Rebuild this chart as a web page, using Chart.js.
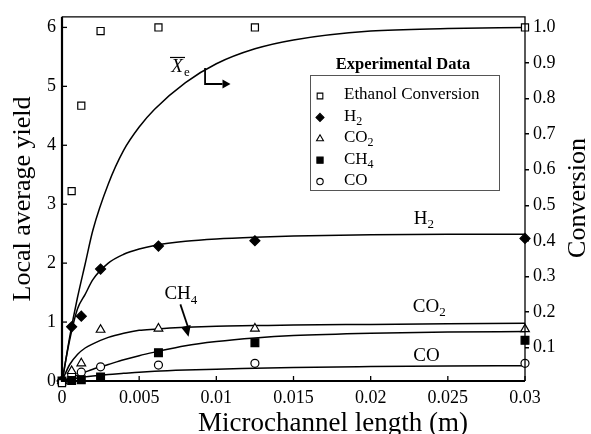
<!DOCTYPE html>
<html><head><meta charset="utf-8">
<script src="https://cdn.jsdelivr.net/npm/chart.js@4/dist/chart.umd.min.js"></script>
<style>html,body{margin:0;padding:0;background:#fff;}#wrap{width:591px;height:434px;}</style>
</head><body><div id="wrap"><canvas id="c" width="591" height="434"></canvas></div>
<script>
const FONT = '"Liberation Serif","Times New Roman",serif';

// ---- experimental data (microchannel length in m) ----
const lengthExp   = [0, 0.000625, 0.00125, 0.0025, 0.00625, 0.0125, 0.03];
const ethanolConv = [0, 0.54, 0.78, 0.99, 1.00, 1.00, 1.00];
const h2Yield     = [0, 0.92, 1.10, 1.90, 2.29, 2.38, 2.42];
const co2Yield    = [0, 0.17, 0.30, 0.87, 0.89, 0.89, 0.88];
const ch4Yield    = [0, 0.01, 0.02, 0.07, 0.48, 0.65, 0.69];
const coYield     = [0, 0.11, 0.15, 0.24, 0.27, 0.30, 0.30];

// ---- model curves ----
const modelLength = [0, 0.0005, 0.001, 0.0015, 0.002, 0.003, 0.004, 0.005, 0.006, 0.008, 0.01, 0.0125, 0.015, 0.02, 0.025, 0.03];
const xeModel  = [0, 0.13, 0.24, 0.335, 0.43, 0.56, 0.655, 0.72, 0.77, 0.845, 0.898, 0.94, 0.965, 0.99, 0.997, 1.0];
const h2Model  = [0, 0.70, 1.22, 1.47, 1.72, 2.00, 2.15, 2.24, 2.30, 2.37, 2.41, 2.44, 2.46, 2.48, 2.49, 2.49];
const co2Model = [0, 0.28, 0.45, 0.56, 0.63, 0.74, 0.81, 0.86, 0.88, 0.91, 0.93, 0.94, 0.95, 0.96, 0.97, 0.98];
const ch4Model = [0, 0.05, 0.10, 0.15, 0.20, 0.28, 0.36, 0.43, 0.49, 0.60, 0.67, 0.73, 0.77, 0.81, 0.83, 0.84];
const coModel  = [0, 0.03, 0.05, 0.07, 0.085, 0.11, 0.13, 0.15, 0.165, 0.185, 0.20, 0.215, 0.23, 0.245, 0.255, 0.26];

// ---- ticks ----
const xTicks = [0, 0.005, 0.01, 0.015, 0.02, 0.025, 0.03];
const xTickLabels = ['0', '0.005', '0.01', '0.015', '0.02', '0.025', '0.03'];
const yieldTicks = [0, 1, 2, 3, 4, 5, 6];
const convTicks = [0.1, 0.2, 0.3, 0.4, 0.5, 0.6, 0.7, 0.8, 0.9, 1.0];
const convTickLabels = ['0.1', '0.2', '0.3', '0.4', '0.5', '0.6', '0.7', '0.8', '0.9', '1.0'];

const legendNames = [['Ethanol Conversion', ''], ['H', '2'], ['CO', '2'], ['CH', '4'], ['CO', '']];

function pts(xs, ys) { return xs.map((x, i) => ({x: x, y: ys[i]})); }
const K = '#000';
function expSet(label, ys, style, r, fill, axis) {
  return {label, data: pts(lengthExp, ys), yAxisID: axis || 'y', showLine: false,
    pointStyle: style, pointRadius: r, pointHoverRadius: r, borderColor: K, backgroundColor: fill,
    borderWidth: 1.2, clip: false};
}
function modelSet(label, ys, axis) {
  return {label, data: pts(modelLength, ys), yAxisID: axis || 'y', showLine: true, pointRadius: 0,
    borderColor: K, borderWidth: 1.5, cubicInterpolationMode: 'monotone', fill: false, clip: false};
}

const styles = [['rect', 5, '#fff'], ['rectRot', 5, K], ['triangle', 5, '#fff'], ['rect', 5.5, K], ['circle', 4, '#fff']];

const datasets = [
  expSet('Ethanol Conversion', ethanolConv, 'rect', 5, '#fff', 'y1'),
  expSet('H2', h2Yield, 'rectRot', 5, K),
  expSet('CO2', co2Yield, 'triangle', 5, '#fff'),
  expSet('CH4', ch4Yield, 'rect', 5.5, K),
  expSet('CO', coYield, 'circle', 4, '#fff'),
  modelSet('Xe model', xeModel, 'y1'),
  modelSet('H2 model', h2Model),
  modelSet('CO2 model', co2Model),
  modelSet('CH4 model', ch4Model),
  modelSet('CO model', coModel)
];

function marker(ctx, style, x, y, r, fill) {
  ctx.save();
  ctx.fillStyle = fill; ctx.strokeStyle = K; ctx.lineWidth = 1.1;
  ctx.beginPath();
  if (style === 'rect') { const s = r * Math.SQRT1_2; ctx.rect(x - s, y - s, 2 * s, 2 * s); }
  else if (style === 'rectRot') { ctx.moveTo(x, y - r); ctx.lineTo(x + r, y); ctx.lineTo(x, y + r); ctx.lineTo(x - r, y); ctx.closePath(); }
  else if (style === 'triangle') { ctx.moveTo(x, y - r); ctx.lineTo(x + r * 0.866, y + r * 0.5); ctx.lineTo(x - r * 0.866, y + r * 0.5); ctx.closePath(); }
  else { ctx.arc(x, y, r, 0, Math.PI * 2); }
  ctx.fill(); ctx.stroke(); ctx.restore();
}
function subText(ctx, base, sub, x, y, size, align) {
  ctx.font = size + 'px ' + FONT;
  const wb = ctx.measureText(base).width;
  ctx.font = Math.round(size * 0.68) + 'px ' + FONT;
  const ws = sub ? ctx.measureText(sub).width : 0;
  let x0 = x;
  if (align === 'center') x0 = x - (wb + ws) / 2;
  ctx.textAlign = 'left'; ctx.textBaseline = 'middle';
  ctx.font = size + 'px ' + FONT;
  ctx.fillText(base, x0, y);
  if (sub) { ctx.font = Math.round(size * 0.68) + 'px ' + FONT; ctx.fillText(sub, x0 + wb, y + size * 0.32); }
}

const decor = {
  id: 'decor',
  afterDraw(chart) {
    const ctx = chart.ctx, a = chart.chartArea;
    const sx = chart.scales.x, sy = chart.scales.y;
    ctx.save();
    ctx.strokeStyle = K; ctx.fillStyle = K;
    // frame
    ctx.lineWidth = 1.3;
    ctx.beginPath(); ctx.moveTo(a.left, a.top); ctx.lineTo(a.right, a.top); ctx.lineTo(a.right, a.bottom); ctx.stroke();
    ctx.lineWidth = 2.2;
    ctx.beginPath(); ctx.moveTo(a.left, a.top); ctx.lineTo(a.left, a.bottom); ctx.lineTo(a.right, a.bottom); ctx.stroke();
    // inner ticks
    ctx.lineWidth = 1.3;
    yieldTicks.forEach(v => { const p = sy.getPixelForValue(v); ctx.beginPath(); ctx.moveTo(a.left, p); ctx.lineTo(a.left + 5, p); ctx.stroke(); });
    xTicks.forEach(v => { const p = sx.getPixelForValue(v); ctx.beginPath(); ctx.moveTo(p, a.bottom); ctx.lineTo(p, a.bottom - 5); ctx.stroke(); });

    // axis titles
    ctx.textAlign = 'center'; ctx.textBaseline = 'alphabetic';
    ctx.font = '27px ' + FONT;
    ctx.fillText('Microchannel length (m)', 333, 431);
    ctx.font = '26px ' + FONT;
    ctx.save(); ctx.translate(30, 199); ctx.rotate(-Math.PI / 2); ctx.fillText('Local average yield', 0, 0); ctx.restore();
    ctx.save(); ctx.translate(585, 198); ctx.rotate(-Math.PI / 2); ctx.fillText('Conversion', 0, 0); ctx.restore();

    // Xe label with overbar and arrow
    const X = v => sx.getPixelForValue(v), Y = v => sy.getPixelForValue(v);
    ctx.font = 'italic 19px ' + FONT; ctx.textAlign = 'center'; ctx.textBaseline = 'middle';
    ctx.fillText('X', X(0.00745), Y(5.32));
    ctx.lineWidth = 1.2;
    ctx.beginPath(); ctx.moveTo(X(0.00745) - 7, Y(5.32) - 10); ctx.lineTo(X(0.00745) + 8, Y(5.32) - 10); ctx.stroke();
    ctx.font = '13px ' + FONT; ctx.textAlign = 'left';
    ctx.fillText('e', X(0.00745) + 7, Y(5.32) + 5);
    ctx.lineWidth = 1.8;
    ctx.beginPath(); ctx.moveTo(X(0.00927), Y(5.31)); ctx.lineTo(X(0.00927), Y(5.04)); ctx.lineTo(X(0.0104), Y(5.04)); ctx.stroke();
    ctx.beginPath(); ctx.moveTo(X(0.0104), Y(5.04) - 4.5); ctx.lineTo(X(0.0104) + 8, Y(5.04)); ctx.lineTo(X(0.0104), Y(5.04) + 4.5); ctx.closePath(); ctx.fill();

    // curve labels
    subText(ctx, 'H', '2', X(0.02345), Y(2.75), 19, 'center');
    subText(ctx, 'CO', '2', X(0.0238), Y(1.26), 19, 'center');
    subText(ctx, 'CO', '', X(0.02362), Y(0.42), 19, 'center');
    subText(ctx, 'CH', '4', X(0.0077), Y(1.47), 19, 'center');
    // CH4 arrow
    const ax0 = X(0.00767), ay0 = Y(1.30), ax1 = X(0.0082), ay1 = Y(0.75);
    ctx.lineWidth = 1.8;
    ctx.beginPath(); ctx.moveTo(ax0, ay0); ctx.lineTo(ax1, ay1 - 8); ctx.stroke();
    const ang = Math.atan2(ay1 - ay0, ax1 - ax0);
    ctx.beginPath(); ctx.moveTo(ax1, ay1);
    ctx.lineTo(ax1 - 11 * Math.cos(ang) + 5 * Math.sin(ang), ay1 - 11 * Math.sin(ang) - 5 * Math.cos(ang));
    ctx.lineTo(ax1 - 11 * Math.cos(ang) - 5 * Math.sin(ang), ay1 - 11 * Math.sin(ang) + 5 * Math.cos(ang));
    ctx.closePath(); ctx.fill();

    // legend
    ctx.font = 'bold 16.5px ' + FONT; ctx.textAlign = 'center'; ctx.textBaseline = 'middle';
    ctx.fillText('Experimental Data', 403, 65);
    ctx.strokeStyle = '#555'; ctx.lineWidth = 1;
    ctx.strokeRect(310.5, 75.5, 189, 115);
    legendNames.forEach((n, i) => {
      const yy = 95 + i * 21.4;
      const st = styles[i];
      marker(ctx, st[0], 320, yy + 1, st[1] * 0.8, st[2]);
      ctx.fillStyle = K;
      subText(ctx, n[0], n[1], 344, yy, 17, 'left');
    });
    ctx.restore();
  }
};

new Chart(document.getElementById('c'), {
  type: 'scatter',
  data: {datasets},
  options: {
    responsive: false, animation: false, devicePixelRatio: 1,
    layout: {padding: {top: 12, left: 0, right: 0, bottom: 0}},
    plugins: {legend: {display: false}, tooltip: {enabled: false}},
    scales: {
      x: {type: 'linear', position: 'bottom', min: 0, max: 0.03,
        afterBuildTicks: s => { s.ticks = xTicks.map(v => ({value: v})); },
        afterFit: s => { s.height = 53; s.paddingLeft = 0; s.paddingRight = 0; },
        ticks: {callback: (v, i) => xTickLabels[i], color: K, font: {family: FONT, size: 18}, padding: 6, maxRotation: 0, autoSkip: false},
        grid: {display: false, drawTicks: false}, border: {display: false}},
      y: {type: 'linear', position: 'left', min: 0, max: 6.18,
        afterBuildTicks: s => { s.ticks = yieldTicks.map(v => ({value: v})); },
        afterFit: s => { s.width = 62; },
        ticks: {callback: (v, i) => String(yieldTicks[i]), color: K, font: {family: FONT, size: 18}, padding: 6},
        grid: {display: false, drawTicks: false}, border: {display: false}},
      y1: {type: 'linear', position: 'right', min: 0.006, max: 1.03,
        afterBuildTicks: s => { s.ticks = convTicks.map(v => ({value: v})); },
        afterFit: s => { s.width = 66; },
        ticks: {callback: (v, i) => convTickLabels[i], color: K, font: {family: FONT, size: 18}, padding: 4},
        grid: {display: true, drawOnChartArea: false, drawTicks: true, tickLength: 4, color: K, lineWidth: 1.5},
        border: {display: false}}
    }
  },
  plugins: [decor]
});
</script></body></html>
